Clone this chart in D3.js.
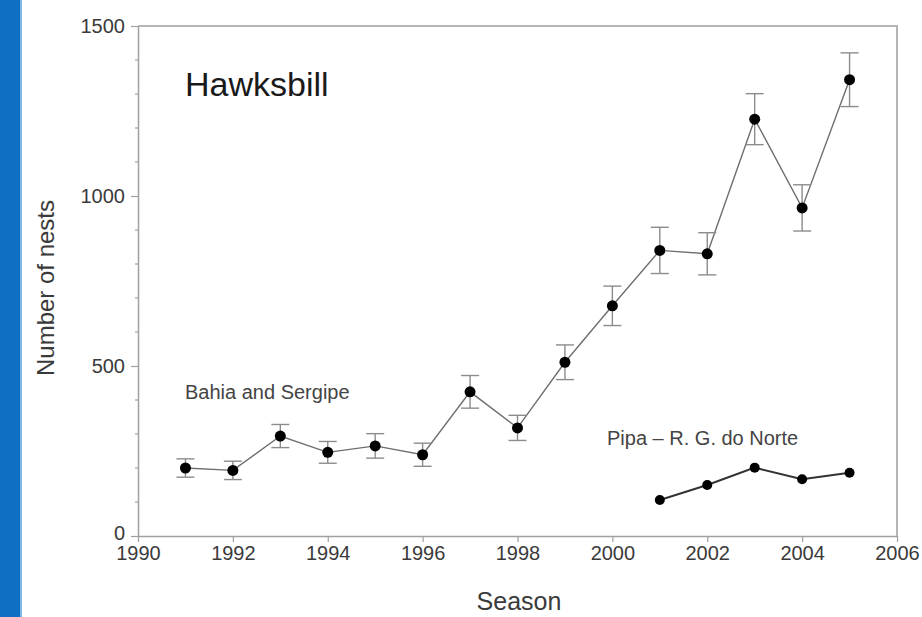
<!DOCTYPE html>
<html>
<head>
<meta charset="utf-8">
<script src="https://cdn.jsdelivr.net/npm/d3@7"></script>
<style>
  body { margin: 0; background: #fff; }
  svg text { font-family: "Liberation Sans", Arial, sans-serif; }
</style>
</head>
<body>
<div id="chart"></div>
<script>
// Bahia and Sergipe series, with error bar half-widths
const bahiaYears = [1991, 1992, 1993, 1994, 1995, 1996, 1997, 1998, 1999, 2000, 2001, 2002, 2003, 2004, 2005];
const bahiaNests = [200, 193, 294, 246, 265, 239, 424, 318, 511, 677, 840, 830, 1226, 965, 1342];
const bahiaErr   = [27, 27, 34, 32, 36, 34, 48, 37, 51, 58, 68, 62, 75, 68, 79];

// Pipa - R. G. do Norte series
const pipaYears = [2001, 2002, 2003, 2004, 2005];
const pipaNests = [106, 150, 201, 167, 186];

const xTicks = [1990, 1992, 1994, 1996, 1998, 2000, 2002, 2004, 2006];
const yTicks = [0, 500, 1000, 1500];
const yMinorTicks = d3.range(0, 1501, 100);

const width = 922, height = 617;
const plotLeft = 138, plotRight = 897, plotTop = 26, plotBottom = 536;

const svg = d3.select("#chart").append("svg")
    .attr("width", width)
    .attr("height", height);

// blue strip on the left edge
svg.append("rect")
    .attr("x", 0).attr("y", 0)
    .attr("width", 20).attr("height", height)
    .style("fill", "#0f6fc2");
svg.append("rect")
    .attr("x", 20).attr("y", 0)
    .attr("width", 2).attr("height", height)
    .style("fill", "#7fb6e6");

const x = d3.scaleLinear().domain([1990, 2006]).range([plotLeft, plotRight]);
const y = d3.scaleLinear().domain([0, 1500]).range([plotBottom, plotTop]);

const axisColor = "#a0a0a0";
const textColor = "#3a3a3a";

// frame (top and right)
svg.append("path")
    .attr("d", `M${plotLeft},${plotTop}H${plotRight}V${plotBottom}`)
    .style("fill", "none")
    .style("stroke", "#b5b5b5")
    .style("stroke-width", 2);

// x axis
const xAxis = svg.append("g")
    .attr("transform", `translate(0,${plotBottom})`)
    .call(d3.axisBottom(x).tickValues(xTicks).tickFormat(d3.format("d")).tickSize(6).tickSizeOuter(0));
xAxis.select(".domain").style("stroke", axisColor).style("stroke-width", 1.5);
xAxis.selectAll(".tick line").style("stroke", axisColor).style("stroke-width", 1.2);
xAxis.selectAll("text")
    .style("font-size", "20px")
    .style("fill", textColor)
    .attr("dy", "0.71em")
    .attr("y", 10);

// y axis
const yAxis = svg.append("g")
    .attr("transform", `translate(${plotLeft},0)`)
    .call(d3.axisLeft(y).tickValues(yTicks).tickFormat(d3.format("d")).tickSize(7).tickSizeOuter(0));
yAxis.select(".domain").style("stroke", axisColor).style("stroke-width", 1.5);
yAxis.selectAll(".tick line").style("stroke", axisColor).style("stroke-width", 1.2);
yAxis.selectAll("text")
    .style("font-size", "20px")
    .style("fill", textColor)
    .attr("x", -13)
    .attr("dy", d => d === 0 ? "0.15em" : "0.32em");

// minor y ticks
svg.append("g")
    .selectAll("line")
    .data(yMinorTicks.filter(d => !yTicks.includes(d)))
    .enter().append("line")
    .attr("x1", plotLeft - 3).attr("x2", plotLeft)
    .attr("y1", d => y(d)).attr("y2", d => y(d))
    .style("stroke", axisColor)
    .style("stroke-width", 1.2);

// axis titles
svg.append("text")
    .attr("x", 519).attr("y", 610)
    .attr("text-anchor", "middle")
    .style("font-size", "25px")
    .style("fill", textColor)
    .text("Season");

svg.append("text")
    .attr("transform", "translate(54,288) rotate(-90)")
    .attr("text-anchor", "middle")
    .style("font-size", "24px")
    .style("fill", textColor)
    .text("Number of nests");

// Bahia and Sergipe
const bahia = bahiaYears.map((yr, i) => ({ year: yr, n: bahiaNests[i], e: bahiaErr[i] }));

const line = d3.line()
    .x(d => x(d.year))
    .y(d => y(d.n));

svg.append("path")
    .datum(bahia)
    .attr("d", line)
    .style("fill", "none")
    .style("stroke", "#6e6e6e")
    .style("stroke-width", 1.4);

const bars = svg.append("g")
    .selectAll("g")
    .data(bahia)
    .enter().append("g")
    .style("stroke", "#8c8c8c")
    .style("stroke-width", 1.4);

bars.append("line")
    .attr("x1", d => x(d.year)).attr("x2", d => x(d.year))
    .attr("y1", d => y(d.n + d.e)).attr("y2", d => y(d.n - d.e));
bars.append("line")
    .attr("x1", d => x(d.year) - 9).attr("x2", d => x(d.year) + 9)
    .attr("y1", d => y(d.n + d.e)).attr("y2", d => y(d.n + d.e));
bars.append("line")
    .attr("x1", d => x(d.year) - 9).attr("x2", d => x(d.year) + 9)
    .attr("y1", d => y(d.n - d.e)).attr("y2", d => y(d.n - d.e));

svg.append("g")
    .selectAll("circle")
    .data(bahia)
    .enter().append("circle")
    .attr("cx", d => x(d.year))
    .attr("cy", d => y(d.n))
    .attr("r", 5.5)
    .style("fill", "#000");

// Pipa
const pipa = pipaYears.map((yr, i) => ({ year: yr, n: pipaNests[i] }));

svg.append("path")
    .datum(pipa)
    .attr("d", line)
    .style("fill", "none")
    .style("stroke", "#333")
    .style("stroke-width", 2);

svg.append("g")
    .selectAll("circle")
    .data(pipa)
    .enter().append("circle")
    .attr("cx", d => x(d.year))
    .attr("cy", d => y(d.n))
    .attr("r", 5)
    .style("fill", "#000");

// labels
svg.append("text")
    .attr("x", 185).attr("y", 96)
    .style("font-size", "34px")
    .style("fill", "#1a1a1a")
    .text("Hawksbill");

svg.append("text")
    .attr("x", 185).attr("y", 399)
    .style("font-size", "20px")
    .style("fill", "#444")
    .text("Bahia and Sergipe");

svg.append("text")
    .attr("x", 607).attr("y", 445)
    .style("font-size", "20px")
    .style("fill", "#444")
    .text("Pipa \u2013 R. G. do Norte");
</script>
</body>
</html>
